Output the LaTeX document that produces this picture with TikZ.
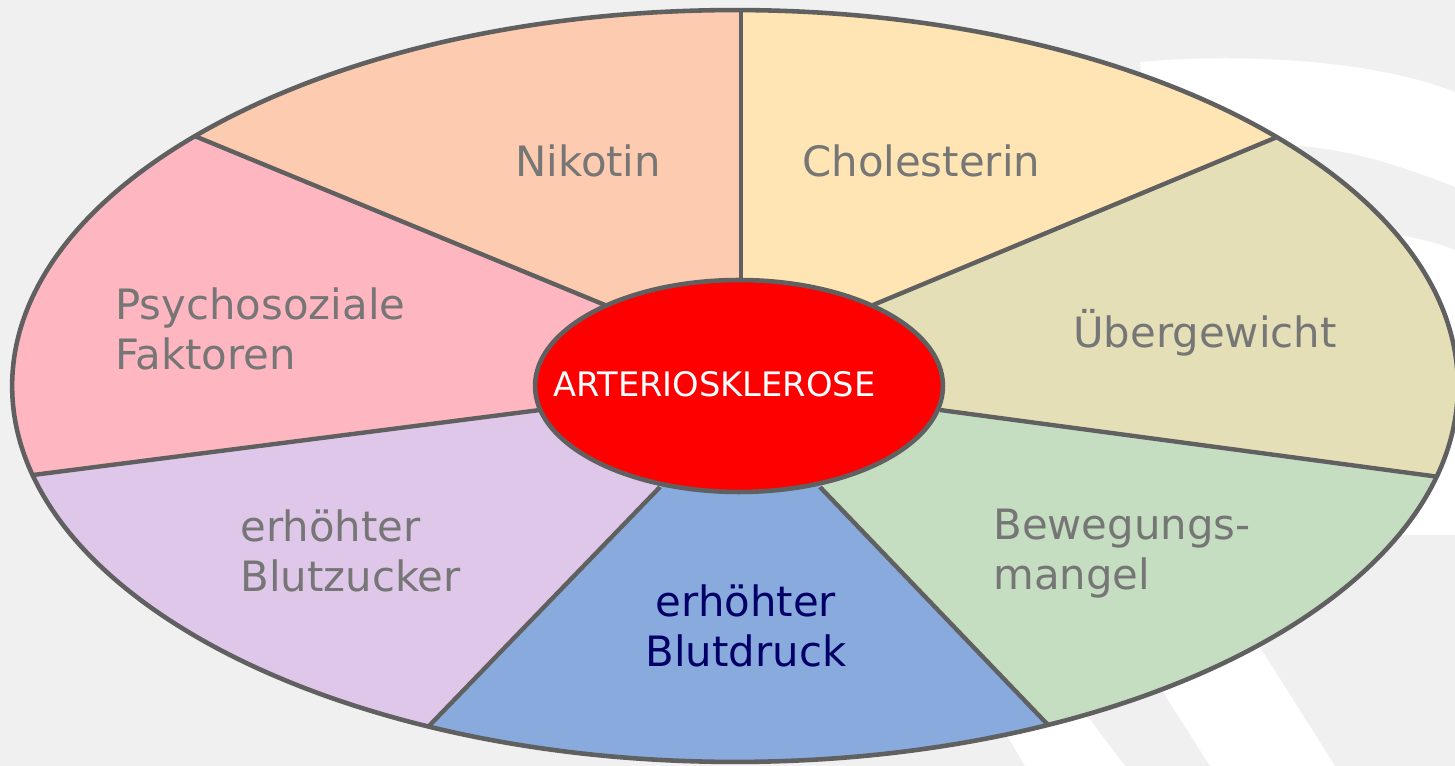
\documentclass[tikz,border=0pt]{standalone}
\usepackage{fontspec}
\setmainfont{DejaVu Sans}
\usetikzlibrary{shapes.geometric}
\definecolor{bg}{HTML}{F0F0F0}
\definecolor{linec}{HTML}{606060}
\definecolor{nikc}{HTML}{FDCBAF}
\definecolor{choc}{HTML}{FEE5B3}
\definecolor{uebc}{HTML}{E5DFB7}
\definecolor{bewc}{HTML}{C5DDC0}
\definecolor{bdrc}{HTML}{88AADD}
\definecolor{bzuc}{HTML}{DFC7EA}
\definecolor{psyc}{HTML}{FEB7C1}
\definecolor{txtgray}{HTML}{767676}
\definecolor{navy}{HTML}{000066}
\begin{document}
\begin{tikzpicture}[x=0.02cm,y=-0.02cm,
  divider/.style={draw=linec,line width=2.5pt},
  lbl/.style={text=txtgray,font=\fontsize{23.8}{29}\selectfont,align=left,anchor=base west,inner sep=0pt},
  swoosh/.style={fill=white}]
\useasboundingbox (0,0) rectangle (1455,766);
\fill[bg] (0,0) rectangle (1455,766);
% background swooshes
\fill[swoosh] (1140,62) .. controls (1250,52) and (1380,62) .. (1455,92) -- (1455,187) .. controls (1400,165) and (1350,150) .. (1300,146) -- (1150,150) -- cycle;
\fill[swoosh] (1380,232) .. controls (1410,236) and (1435,242) .. (1455,250) -- (1455,535) -- (1380,535) -- cycle;
\fill[swoosh] (980,690) -- (1060,680) -- (1125,766) -- (1025,766) -- cycle;
\fill[swoosh] (1130,640) -- (1230,600) -- (1335,766) -- (1210,766) -- cycle;
% geometry
\coordinate (C) at (739,386);
\coordinate (i1) at (741,280); \coordinate (e1) at (741,-300);
\coordinate (i2) at (605,305); \coordinate (e2) at (-211,-31);
\coordinate (i3) at (540,410); \coordinate (e3) at (-474,540);
\coordinate (i4) at (660,487); \coordinate (e4) at (196,967);
\coordinate (i5) at (820,487); \coordinate (e5) at (1280,967);
\coordinate (i6) at (940,410); \coordinate (e6) at (1954,546);
\coordinate (i7) at (873,305); \coordinate (e7) at (1691,-35);
\begin{scope}
\clip (735,386) ellipse [x radius=14.46cm, y radius=7.52cm];
\fill[nikc] (C) -- (i2) -- (e2) -- (-300,-300) -- (e1) -- (i1) -- cycle;
\fill[choc] (C) -- (i1) -- (e1) -- (1800,-300) -- (e7) -- (i7) -- cycle;
\fill[uebc] (C) -- (i7) -- (e7) -- (2000,-35) -- (e6) -- (i6) -- cycle;
\fill[bewc] (C) -- (i6) -- (e6) -- (1954,1000) -- (e5) -- (i5) -- cycle;
\fill[bdrc] (C) -- (i5) -- (e5) -- (e4) -- (i4) -- cycle;
\fill[bzuc] (C) -- (i4) -- (e4) -- (-474,967) -- (e3) -- (i3) -- cycle;
\fill[psyc] (C) -- (i3) -- (e3) -- (-474,-31) -- (e2) -- (i2) -- cycle;
\draw[divider] (i1) -- (e1);
\draw[divider] (i2) -- (e2);
\draw[divider] (i3) -- (e3);
\draw[divider] (i4) -- (e4);
\draw[divider] (i5) -- (e5);
\draw[divider] (i6) -- (e6);
\draw[divider] (i7) -- (e7);
\end{scope}
\node[ellipse,draw=linec,line width=2.6pt,inner sep=0pt,minimum width=28.92cm,minimum height=15.04cm] (outer) at (735,386) {};
\node[ellipse,draw=linec,fill=red,line width=2.6pt,inner sep=0pt,minimum width=8.16cm,minimum height=4.24cm] (core) at (739,386) {};
\node[anchor=base west,inner sep=0pt,text=white,font=\fontsize{19.2}{23}\selectfont] (tcore) at (553,397) {ARTERIOSKLEROSE};
% labels
\node[lbl] (nik) at (515,177) {Nikotin};
\node[lbl] (cho) at (802,177) {Cholesterin};
\node[lbl] (ueb) at (1073,348) {Übergewicht};
\node[lbl] (psy) at (115,370) {Psychosoziale\\Faktoren};
\node[lbl] (bzu) at (240,592) {erhöhter\\Blutzucker};
\node[lbl] (bew) at (993,590) {Bewegungs-\\mangel};
\node[lbl,text=navy,align=center,anchor=base] (bdr) at (746,667) {erhöhter\\Blutdruck};
\end{tikzpicture}
\end{document}
